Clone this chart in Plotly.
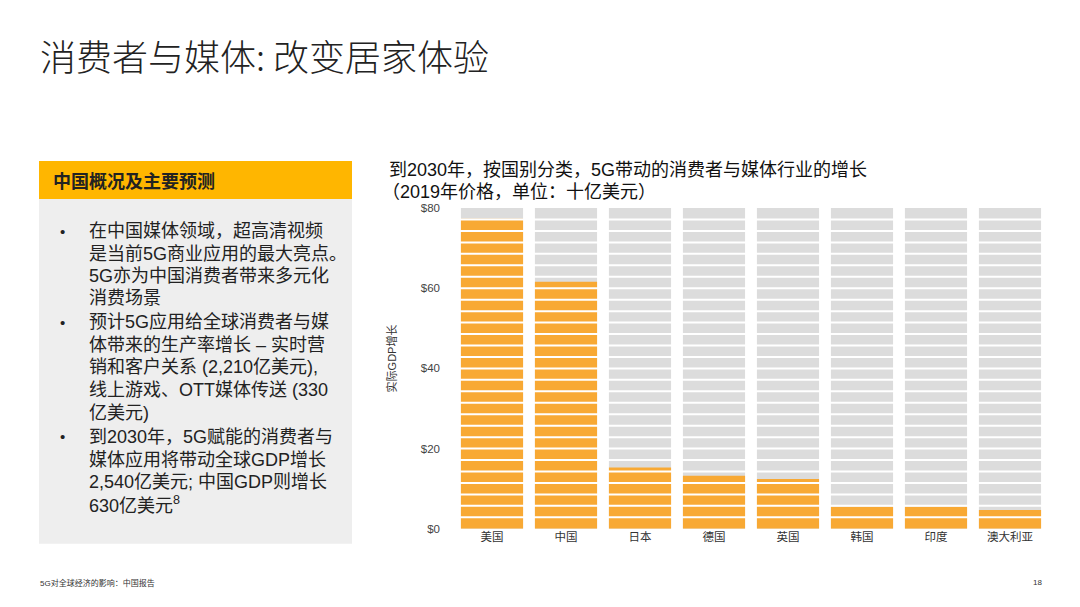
import plotly.graph_objects as go

W, H = 1080, 607
OFF_X = 8        # page offset of the figure inside the browser window
OFF_Y = 14.4     # observed vertical offset of the photographed page
SCALE_Y = 0.978  # observed vertical scale of the photographed page

# ---- data ----
countries = ["美国", "中国", "日本", "德国", "英国", "韩国", "印度", "澳大利亚"]
gdp_growth = [77.3, 61.6, 15.3, 13.2, 12.4, 5.5, 5.5, 4.7]
y_max = 80
y_ticks = [0, 20, 40, 60, 80]
y_tick_labels = ["$0", "$20", "$40", "$60", "$80"]
n_segments = 28

title_main = "消费者与媒体: 改变居家体验"
chart_title = ["到2030年，按国别分类，5G带动的消费者与媒体行业的增长", "（2019年价格，单位：十亿美元）"]
y_title = "实际GDP增长"
panel_header = "中国概况及主要预测"
panel_bullets = [
    ["在中国媒体领域，超高清视频", "是当前5G商业应用的最大亮点。", "5G亦为中国消费者带来多元化", "消费场景"],
    ["预计5G应用给全球消费者与媒", "体带来的生产率增长 – 实时营", "销和客户关系 (2,210亿美元),", "线上游戏、OTT媒体传送 (330", "亿美元)"],
    ["到2030年，5G赋能的消费者与", "媒体应用将带动全球GDP增长", "2,540亿美元; 中国GDP则增长", "630亿美元<sup>8</sup>"],
]
footer_left = "5G对全球经济的影响：中国报告"
footer_right = "18"

# ---- styles ----
FONT = "Liberation Sans, Arial, Noto Sans CJK SC, sans-serif"
CJK = "Noto Sans CJK SC, Liberation Sans, sans-serif"
ORANGE = "#F8A934"
GRAY_BAR = "#DCDCDC"
HEADER = "#FFB600"
PANEL = "#EEEEEE"

def px(x):
    return (x - OFF_X) / W

def py(y):
    return 1 - ((y - OFF_Y) / SCALE_Y) / H

x_dom = [px(455), px(1047)]
y_dom = [py(528), py(208)]

fig = go.Figure()
fig.add_trace(go.Bar(x=countries, y=[y_max] * len(countries), marker=dict(color=GRAY_BAR, line=dict(width=0)),
                     hoverinfo="skip", showlegend=False))
fig.add_trace(go.Bar(x=countries, y=gdp_growth, marker=dict(color=ORANGE, line=dict(width=0)),
                     showlegend=False))

shapes = []
# white horizontal separators across the bars
for k in range(1, n_segments):
    yv = k * y_max / n_segments
    shapes.append(dict(type="line", xref="paper", yref="y", x0=x_dom[0], x1=x_dom[1], y0=yv, y1=yv,
                       line=dict(color="white", width=2), layer="above"))
# left panel
shapes.append(dict(type="rect", xref="paper", yref="paper", x0=px(39), x1=px(352), y0=py(543), y1=py(199),
                   fillcolor=PANEL, line=dict(width=0), layer="below"))
shapes.append(dict(type="rect", xref="paper", yref="paper", x0=px(39), x1=px(352), y0=py(199), y1=py(161),
                   fillcolor=HEADER, line=dict(width=0), layer="below"))

annotations = []
annotations.append(dict(text=title_main, x=px(38), y=py(55), xref="paper", yref="paper", xanchor="left",
                        yanchor="middle", showarrow=False,
                        font=dict(family=CJK, size=36, color="#222222", weight=300)))
for i, line in enumerate(chart_title):
    annotations.append(dict(text=line, x=px(387 if i == 0 else 380), y=py(170 + 22 * i), xref="paper", yref="paper",
                            xanchor="left", yanchor="middle", showarrow=False,
                            font=dict(family=FONT, size=18, color="#111111")))
annotations.append(dict(text=y_title, x=px(391), y=py(358), xref="paper", yref="paper", textangle=-90,
                        xanchor="center", yanchor="middle", showarrow=False,
                        font=dict(family=FONT, size=11, color="#333333")))
annotations.append(dict(text="<b>" + panel_header + "</b>", x=px(51), y=py(180), xref="paper", yref="paper",
                        xanchor="left", yanchor="middle", showarrow=False,
                        font=dict(family=CJK, size=18, color="#222222")))
bullet_y = [[231, 254, 276, 298], [322, 345, 367, 390, 412], [436, 459, 481, 504]]
for b, lines in enumerate(panel_bullets):
    annotations.append(dict(text="•", x=px(58), y=py(bullet_y[b][0]), xref="paper", yref="paper",
                            xanchor="left", yanchor="middle", showarrow=False,
                            font=dict(family=FONT, size=15, color="#222222")))
    for j, line in enumerate(lines):
        annotations.append(dict(text=line, x=px(87), y=py(bullet_y[b][j]), xref="paper", yref="paper",
                                xanchor="left", yanchor="middle", showarrow=False,
                                font=dict(family=FONT, size=18, color="#222222")))
annotations.append(dict(text=footer_left, x=px(38), y=py(582), xref="paper", yref="paper", xanchor="left",
                        yanchor="middle", showarrow=False, font=dict(family=FONT, size=8, color="#333333")))
annotations.append(dict(text=footer_right, x=px(1044), y=py(582), xref="paper", yref="paper", xanchor="right",
                        yanchor="middle", showarrow=False, font=dict(family=FONT, size=8, color="#333333")))

fig.update_layout(
    width=W, height=H,
    margin=dict(l=0, r=0, t=0, b=0),
    paper_bgcolor="white", plot_bgcolor="white",
    barmode="overlay", bargap=0.16,
    showlegend=False,
    shapes=shapes, annotations=annotations,
    xaxis=dict(domain=x_dom, showgrid=False, zeroline=False, showline=False, ticks="",
               tickfont=dict(family=FONT, size=11.5, color="#333333"), fixedrange=True),
    yaxis=dict(domain=y_dom, range=[0, y_max], tickvals=y_ticks, ticktext=y_tick_labels,
               showgrid=False, zeroline=False, showline=False, ticks="", ticklabelstandoff=14,
               tickfont=dict(family=FONT, size=11.5, color="#444444"), fixedrange=True),
)

fig.write_html("out.html")
